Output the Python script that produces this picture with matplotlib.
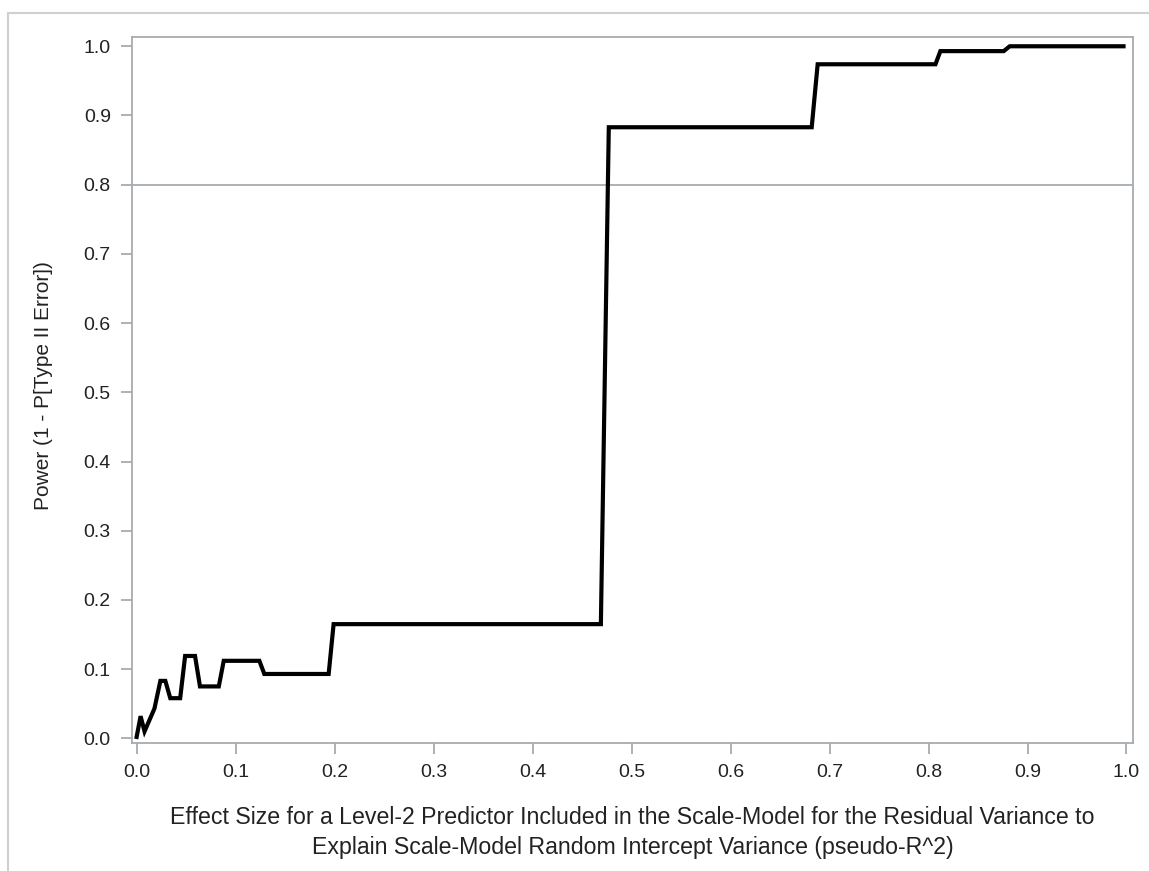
import matplotlib
matplotlib.use("Agg")
import matplotlib.pyplot as plt
from matplotlib.patches import Rectangle

plt.rcParams['font.family'] = ['Liberation Sans', 'DejaVu Sans']

# power curve: effect size vs power
effect_size = [0.0, 0.004, 0.008, 0.018, 0.024, 0.029, 0.034, 0.044, 0.049, 0.059,
               0.064, 0.083, 0.088, 0.124, 0.129, 0.194, 0.199, 0.469, 0.477,
               0.682, 0.688, 0.807, 0.812, 0.876, 0.882, 0.997]
power = [0.002, 0.032, 0.010, 0.043, 0.083, 0.083, 0.058, 0.058, 0.119, 0.119,
         0.075, 0.075, 0.112, 0.112, 0.093, 0.093, 0.165, 0.165, 0.883,
         0.883, 0.974, 0.974, 0.993, 0.993, 1.0, 1.0]
target_power = 0.8

grey = '#a7abaf'

fig = plt.figure(figsize=(11.49, 8.71), dpi=100)
# outer frame around the graph
fig.patches.append(Rectangle((8 / 1149, -0.05), 1.1, (871 - 13) / 871 + 0.05,
                             transform=fig.transFigure, fill=False,
                             edgecolor='#d0d0d0', linewidth=1.5))

ax = fig.add_axes([0.1146, 0.1466, 0.9861 - 0.1146, 0.9572 - 0.1466])
ax.axhline(target_power, color=grey, linewidth=1.3, zorder=1)
ax.plot(effect_size, power, color='black', linewidth=3.0, solid_joinstyle='miter', zorder=3)

ax.set_xlim(-0.005, 1.0066)
ax.set_ylim(-0.0072, 1.013)
ax.set_xticks([i / 10 for i in range(11)])
ax.set_yticks([i / 10 for i in range(11)])
ax.set_xticklabels([f"{i / 10:.1f}" for i in range(11)])
ax.set_yticklabels([f"{i / 10:.1f}" for i in range(11)])

for s in ax.spines.values():
    s.set_color(grey)
    s.set_linewidth(1.3)
ax.tick_params(axis='both', color=grey, width=1.3, length=8, labelsize=14,
               labelcolor='#222222', pad=7)

ax.set_xlabel("Effect Size for a Level-2 Predictor Included in the Scale-Model for the Residual Variance to\n"
              "Explain Scale-Model Random Intercept Variance (pseudo-R^2)",
              fontsize=16.7, color='#222222', labelpad=18, linespacing=1.4)
ax.set_ylabel("Power (1 - P[Type II Error])", fontsize=15, color='#222222')
ax.yaxis.set_label_coords(-0.0786, 0.507)

fig.savefig("out.png", dpi=100)
